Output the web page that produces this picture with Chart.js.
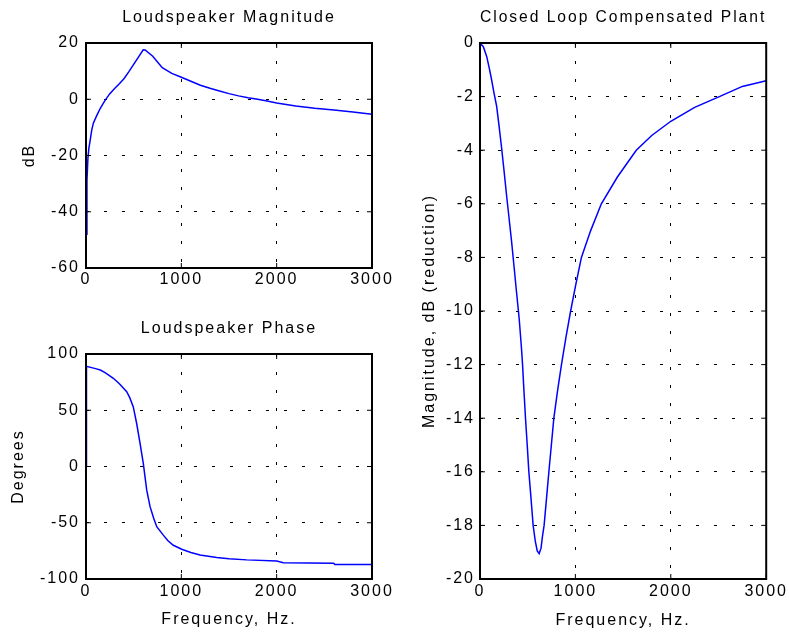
<!DOCTYPE html>
<html lang="en">
<head>
  <meta charset="UTF-8" />
  <title>Loudspeaker response</title>
  <script src="https://cdn.jsdelivr.net/npm/chart.js@4"></script>
  <style>
    body { margin: 0; background: #fff; }
    .wrap { position: relative; width: 789px; height: 636px; }
    canvas { position: absolute; }
  </style>
</head>
<body>
  <div class="wrap">
    <canvas id="magChart" width="400" height="300" style="left:0;top:0"></canvas>
    <canvas id="phaseChart" width="400" height="336" style="left:0;top:300px"></canvas>
    <canvas id="closedChart" width="389" height="636" style="left:400px;top:0"></canvas>
  </div>

  <script>
    // Loudspeaker magnitude (Hz, dB)
    const magFreq = [0, 10, 20, 30, 42, 60, 77, 110, 150, 200, 250, 300, 350, 400, 450, 500, 550, 600, 620,
                     700, 800, 900, 1000, 1100, 1200, 1300, 1400, 1500, 1600, 1700, 1800, 1900, 2000,
                     2200, 2400, 2600, 2800, 3000];
    const magDb = [-48, -29, -21, -17.5, -15, -11, -8.5, -6, -3.2, -0.4, 2, 3.8, 5.5, 7.4, 9.8, 12.4, 15, 17.6, 17.5,
                   15.3, 11.2, 9.2, 7.8, 6.4, 5, 3.9, 2.9, 2, 1.2, 0.5, 0, -0.6, -1.3,
                   -2.4, -3.2, -3.8, -4.5, -5.3];

    // Loudspeaker phase (Hz, degrees)
    const phaseFreq = [0, 5, 100, 150, 200, 287, 350, 427, 460, 496, 532, 567, 601, 637, 672, 710, 742, 811, 860,
                       916, 1004, 1100, 1196, 1371, 1500, 1686, 2001, 2070, 2596, 2610, 3000];
    const phaseDeg = [0, 89, 87, 85.8, 83.5, 78.4, 73.5, 66.5, 61, 53, 38, 20.6, 2.8, -21, -35.7, -46, -53.5, -61, -66,
                      -70, -73.6, -76.5, -78.7, -80.8, -82, -83, -84, -85.5, -86, -87, -87];

    // Closed loop compensated plant (Hz, dB reduction)
    const clFreq = [0, 35, 70, 101, 122, 146, 174, 200, 226, 253, 279, 305, 331, 357, 383, 411, 435, 446, 461, 477, 495,
                    512, 535, 557, 580, 600, 620, 640, 655, 672, 697, 722, 748, 774, 812, 854, 900, 950, 1005,
                    1063, 1160, 1272, 1440, 1638, 1800, 2000, 2250, 2509, 2750, 3000];
    const clDb = [0, -0.14, -0.5, -1, -1.38, -1.85, -2.35, -3.1, -3.9, -4.8, -5.7, -6.55, -7.4, -8.35, -9.3, -10.3, -11.4, -12, -13, -14, -15,
                  -16, -17, -18, -18.6, -18.95, -19.05, -18.85, -18.4, -18, -17, -16, -15, -14, -13, -12, -11, -10, -9,
                  -8, -7, -6, -5, -4, -3.45, -2.92, -2.4, -2, -1.62, -1.41];

    // tick values
    const freqTicks = [0, 1000, 2000, 3000];
    const magTicks = [-60, -40, -20, 0, 20];
    const phaseTicks = [-100, -50, 0, 50, 100];
    const clTicks = [-20, -18, -16, -14, -12, -10, -8, -6, -4, -2, 0];

    Chart.defaults.font.family = "'Liberation Sans', Arial, sans-serif";
    Chart.defaults.color = "#000";

    const textFont = { size: 16, weight: "normal", lineHeight: 1 };

    // MATLAB style frame: full box, inward ticks, spaced text
    const framePlugin = {
      id: "frame",
      beforeDraw(chart) {
        chart.ctx.letterSpacing = "2px";
      },
      afterDatasetsDraw(chart) {
        const { ctx, chartArea: a, scales } = chart;
        const x = scales.x, y = scales.y;
        ctx.save();
        ctx.strokeStyle = "#000";
        ctx.lineWidth = 1;
        ctx.beginPath();
        x.ticks.forEach(t => {
          const px = x.getPixelForValue(t.value);
          ctx.moveTo(px, a.bottom); ctx.lineTo(px, a.bottom - 5);
          ctx.moveTo(px, a.top); ctx.lineTo(px, a.top + 5);
        });
        y.ticks.forEach(t => {
          const py = y.getPixelForValue(t.value);
          ctx.moveTo(a.left, py); ctx.lineTo(a.left + 5, py);
          ctx.moveTo(a.right, py); ctx.lineTo(a.right - 5, py);
        });
        ctx.stroke();
        ctx.lineWidth = 2;
        ctx.strokeRect(a.left, a.top, a.right - a.left, a.bottom - a.top);
        ctx.restore();
      }
    };

    function toPoints(xs, ys) {
      return xs.map((v, i) => ({ x: v, y: ys[i] }));
    }

    function makeChart(id, opt) {
      const canvas = document.getElementById(id);
      const w = canvas.width, h = canvas.height;
      return new Chart(canvas.getContext("2d"), {
        type: "line",
        data: {
          datasets: [{
            data: toPoints(opt.xs, opt.ys),
            borderColor: "#0000ff",
            borderWidth: 1.5,
            pointRadius: 0,
            fill: false,
            tension: 0
          }]
        },
        options: {
          responsive: false,
          animation: false,
          layout: { padding: { left: 0, top: 0, right: w - opt.area.right, bottom: 0 } },
          plugins: {
            legend: { display: false },
            tooltip: { enabled: false },
            title: { display: false }
          },
          scales: {
            // top axis only carries the plot title, centred over the plot box
            top: {
              type: "linear",
              position: "top",
              min: 0,
              max: 3000,
              afterFit: s => { s.height = opt.area.top; },
              ticks: { display: false },
              grid: { display: false },
              border: { display: false },
              title: {
                display: true,
                text: opt.title,
                font: textFont,
                padding: { top: opt.titleY - 8, bottom: 0 }
              }
            },
            x: {
              type: "linear",
              position: "bottom",
              min: 0,
              max: 3000,
              afterBuildTicks: s => { s.ticks = freqTicks.map(v => ({ value: v })); },
              afterFit: s => { s.height = h - opt.area.bottom; },
              ticks: { font: textFont, padding: opt.xTickPad, maxRotation: 0, callback: v => String(v) },
              grid: { color: "#000", lineWidth: 1, drawTicks: false },
              border: { display: false, dash: [3, 15] },
              title: {
                display: !!opt.xTitle,
                text: opt.xTitle || "",
                font: textFont,
                padding: { top: 0, bottom: opt.xTitlePad || 0 }
              }
            },
            y: {
              type: "linear",
              min: opt.yTicks[0],
              max: opt.yTicks[opt.yTicks.length - 1],
              afterBuildTicks: s => { s.ticks = opt.yTicks.map(v => ({ value: v })); },
              afterFit: s => { s.width = opt.area.left; },
              ticks: { font: textFont, padding: opt.yTickPad, callback: v => String(v) },
              grid: { color: "#000", lineWidth: 1, drawTicks: false },
              border: { display: false, dash: [3, 15] },
              title: {
                display: true,
                text: opt.yTitle,
                font: textFont,
                padding: { top: opt.yTitleX - 8, bottom: 0 }
              }
            }
          }
        },
        plugins: [framePlugin]
      });
    }

    makeChart("magChart", {
      xs: magFreq, ys: magDb, yTicks: magTicks,
      title: "Loudspeaker Magnitude", titleY: 17.5,
      area: { left: 86, top: 43, right: 372, bottom: 268 },
      xTickPad: 4, yTickPad: 6,
      yTitle: "dB", yTitleX: 30
    });

    makeChart("phaseChart", {
      xs: phaseFreq, ys: phaseDeg, yTicks: phaseTicks,
      title: "Loudspeaker Phase", titleY: 29,
      area: { left: 86, top: 54, right: 372, bottom: 279 },
      xTickPad: 5, yTickPad: 6,
      yTitle: "Degrees", yTitleX: 19,
      xTitle: "Frequency, Hz.", xTitlePad: 8
    });

    makeChart("closedChart", {
      xs: clFreq, ys: clDb, yTicks: clTicks,
      title: "Closed Loop Compensated Plant", titleY: 17.5,
      area: { left: 80, top: 43, right: 367, bottom: 579 },
      xTickPad: 5, yTickPad: 5,
      yTitle: "Magnitude, dB (reduction)", yTitleX: 30,
      xTitle: "Frequency, Hz.", xTitlePad: 7
    });
  </script>
</body>
</html>
